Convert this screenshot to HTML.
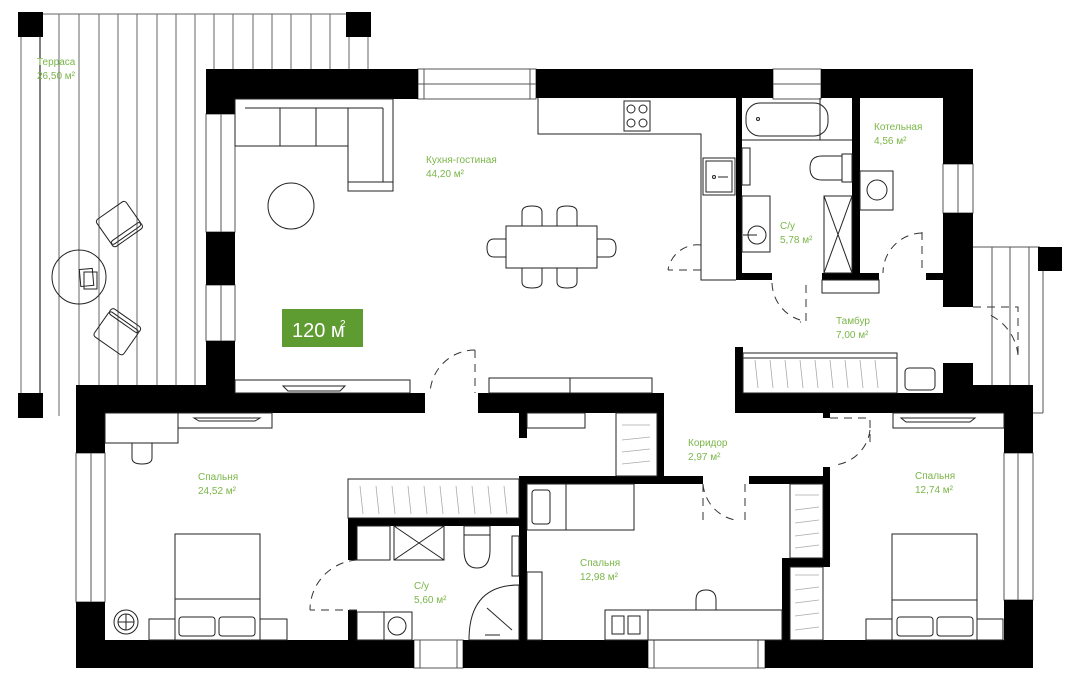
<!DOCTYPE html>
<html><head><meta charset="utf-8"><style>
html,body{margin:0;padding:0;background:#fff;width:1080px;height:695px;overflow:hidden}
svg{display:block}
text{font-family:"Liberation Sans","Noto Sans CJK SC",sans-serif;fill:#7ab648;font-size:10px}
</style></head><body>
<svg width="1080" height="695" viewBox="0 0 1080 695" xmlns="http://www.w3.org/2000/svg">
<!-- Terrace planks -->
<g stroke="#666" stroke-width="1">
<line x1="21" y1="14" x2="21" y2="416"/><line x1="40" y1="14" x2="40" y2="416" stroke="#000"/>
<line x1="59" y1="14" x2="59" y2="416"/><line x1="79" y1="14" x2="79" y2="385"/>
<line x1="99" y1="14" x2="99" y2="385"/><line x1="118" y1="14" x2="118" y2="385"/>
<line x1="137" y1="14" x2="137" y2="385"/><line x1="157" y1="14" x2="157" y2="385"/>
<line x1="176" y1="14" x2="176" y2="385"/><line x1="195" y1="14" x2="195" y2="385"/>
<line x1="214" y1="14" x2="214" y2="69"/><line x1="233" y1="14" x2="233" y2="69"/>
<line x1="253" y1="14" x2="253" y2="69"/><line x1="272" y1="14" x2="272" y2="69"/>
<line x1="291" y1="14" x2="291" y2="69"/><line x1="311" y1="14" x2="311" y2="69"/>
<line x1="330" y1="14" x2="330" y2="69"/><line x1="349" y1="14" x2="349" y2="69"/>
<line x1="368" y1="14" x2="368" y2="69"/>
<line x1="18" y1="14" x2="368" y2="14"/>
</g>
<rect x="18" y="12" width="25" height="25"/><rect x="346" y="12" width="25" height="25"/>
<rect x="18" y="393" width="25" height="25"/>
<!-- right terrace -->
<g stroke="#555" stroke-width="1">
<line x1="973" y1="247" x2="1040" y2="247"/>
<line x1="992" y1="247" x2="992" y2="385"/><line x1="1010" y1="247" x2="1010" y2="385"/>
<line x1="1029" y1="247" x2="1029" y2="385"/><line x1="1043" y1="270" x2="1043" y2="413"/>
<line x1="1033" y1="413" x2="1043" y2="413"/>
</g>
<rect x="1038" y="247" width="24" height="24"/>
<!-- terrace furniture -->
<g fill="none" stroke="#222" stroke-width="1">
<circle cx="79" cy="277" r="27"/>
<rect x="80" y="269" width="13" height="17" transform="rotate(-5 86 277)"/>
<rect x="84" y="272" width="13" height="17"/>
<g transform="rotate(-35 118 222)"><rect x="100" y="208" width="36" height="30" rx="3"/><rect x="100" y="234" width="36" height="7" rx="3"/></g>
<g transform="rotate(35 115 335)"><rect x="97" y="318" width="36" height="30" rx="3"/><rect x="97" y="314" width="36" height="7" rx="3"/></g>
</g>
<!-- windows (gray lines) -->
<g stroke="#555" stroke-width="1" fill="none">
<rect x="418" y="69" width="118" height="30"/><line x1="418" y1="84" x2="536" y2="84"/><line x1="424" y1="69" x2="424" y2="99"/><line x1="530" y1="69" x2="530" y2="99"/>
<rect x="773" y="69" width="48" height="30"/><line x1="773" y1="84" x2="821" y2="84"/>
<rect x="943" y="164" width="30" height="49"/><line x1="958" y1="164" x2="958" y2="213"/>
<rect x="206" y="114" width="29" height="118"/><line x1="221" y1="114" x2="221" y2="232"/>
<rect x="206" y="285" width="29" height="56"/><line x1="221" y1="285" x2="221" y2="341"/>
<rect x="76" y="453" width="29" height="149"/><line x1="91" y1="453" x2="91" y2="602"/>
<rect x="1004" y="453" width="29" height="147"/><line x1="1018" y1="453" x2="1018" y2="600"/>
<rect x="414" y="640" width="49" height="28"/><line x1="420" y1="640" x2="420" y2="668"/><line x1="457" y1="640" x2="457" y2="668"/>
<rect x="648" y="640" width="117" height="28"/><line x1="654" y1="640" x2="654" y2="668"/><line x1="758" y1="640" x2="758" y2="668"/>
</g>
<!-- walls -->
<g fill="#000">
<rect x="206" y="69" width="212" height="30"/>
<rect x="206" y="99" width="29" height="15"/>
<rect x="206" y="232" width="29" height="53"/>
<rect x="206" y="341" width="29" height="72"/>
<rect x="536" y="69" width="237" height="29"/>
<rect x="821" y="69" width="152" height="29"/>
<rect x="943" y="98" width="30" height="66"/>
<rect x="943" y="213" width="30" height="94"/>
<rect x="943" y="363" width="30" height="50"/>
<rect x="973" y="385" width="60" height="28"/>
<rect x="76" y="385" width="159" height="28"/>
<rect x="235" y="393" width="190" height="20"/>
<rect x="478" y="393" width="186" height="20"/>
<rect x="735" y="347" width="8" height="66"/>
<rect x="735" y="393" width="208" height="20"/>
<rect x="76" y="413" width="29" height="40"/>
<rect x="76" y="602" width="29" height="66"/>
<rect x="1004" y="413" width="29" height="40"/>
<rect x="1004" y="600" width="29" height="68"/>
<rect x="76" y="640" width="338" height="28"/>
<rect x="463" y="640" width="185" height="28"/>
<rect x="765" y="640" width="268" height="28"/>
<rect x="736" y="98" width="6" height="182"/><rect x="736" y="273" width="36" height="7"/>
<rect x="852" y="98" width="8" height="182"/><rect x="822" y="273" width="57" height="7"/>
<rect x="926" y="273" width="18" height="7"/>
<rect x="519" y="413" width="8" height="25"/>
<rect x="657" y="413" width="7" height="63"/>
<rect x="519" y="476" width="184" height="8"/>
<rect x="519" y="476" width="8" height="164"/>
<rect x="749" y="476" width="81" height="8"/>
<rect x="823" y="467" width="7" height="100"/>
<rect x="823" y="413" width="7" height="5"/>
<rect x="782" y="558" width="48" height="9"/>
<rect x="782" y="558" width="8" height="82"/>
<rect x="348" y="518" width="171" height="8"/>
<rect x="348" y="518" width="9" height="42"/>
<rect x="348" y="610" width="9" height="30"/>
</g>
<!-- furniture -->
<g fill="none" stroke="#222" stroke-width="1">
<path d="M235 99 H393 V191 H348 V146 H235 Z"/>
<line x1="245" y1="108" x2="383" y2="108"/><line x1="383" y1="108" x2="383" y2="182"/>
<line x1="280" y1="108" x2="280" y2="146"/><line x1="316" y1="108" x2="316" y2="146"/><line x1="348" y1="108" x2="348" y2="146"/>
<line x1="348" y1="182" x2="393" y2="182"/>
<circle cx="291" cy="206" r="23"/>
<rect x="506" y="226" width="91" height="42"/>
<path d="M522 226 V212 Q522 206 532 206 Q542 206 542 212 V226"/>
<path d="M557 226 V212 Q557 206 567 206 Q577 206 577 212 V226"/>
<path d="M522 268 V282 Q522 288 532 288 Q542 288 542 282 V268"/>
<path d="M557 268 V282 Q557 288 567 288 Q577 288 577 282 V268"/>
<path d="M506 239 H494 Q487 239 487 248 Q487 257 494 257 H506"/>
<path d="M597 239 H609 Q616 239 616 248 Q616 257 609 257 H597"/>
<path d="M538 98 V134 H701 V280 H736"/>
<rect x="624" y="101" width="26" height="30"/>
<circle cx="631" cy="109" r="4"/><circle cx="643" cy="109" r="4"/><circle cx="631" cy="123" r="4"/><circle cx="643" cy="123" r="4"/>
<rect x="703" y="158" width="32" height="37"/><rect x="706" y="161" width="26" height="31"/>
<circle cx="714" cy="177" r="1.5"/><line x1="718" y1="177" x2="728" y2="177"/>
<rect x="235" y="380" width="175" height="13"/>
<path d="M283 386 H345 L340 391 H288 Z"/>
<rect x="489" y="378" width="81" height="15"/><rect x="570" y="378" width="82" height="15"/>
<line x1="742" y1="140" x2="852" y2="140"/>
<rect x="746" y="103" width="82" height="33" rx="14"/><circle cx="758" cy="119" r="1.5"/>
<line x1="820" y1="98" x2="820" y2="140"/>
<rect x="742" y="148" width="8" height="37"/>
<path d="M842 156 H822 Q810 156 810 168 Q810 180 822 180 H842"/><rect x="842" y="154" width="10" height="28"/>
<rect x="742" y="196" width="28" height="56"/><circle cx="757" cy="235" r="9"/><line x1="743" y1="235" x2="757" y2="235"/>
<rect x="824" y="196" width="28" height="77"/><path d="M824 196 L852 273 M852 196 L824 273"/>
<rect x="860" y="171" width="33" height="39"/><circle cx="877" cy="190" r="10"/>
<rect x="822" y="280" width="57" height="13"/>
<rect x="743" y="353" width="154" height="40"/>
<rect x="743" y="358" width="154" height="35"/>
<rect x="905" y="368" width="30" height="22" rx="4"/>
<rect x="105" y="413" width="73" height="30"/>
<rect x="178" y="413" width="94" height="15"/>
<path d="M194 418 H260 L255 421 H199 Z"/>
<path d="M132 443 V458 Q132 464 142 464 Q152 464 152 458 V443"/>
<rect x="175" y="534" width="85" height="106"/><line x1="175" y1="599" x2="260" y2="599"/>
<rect x="179" y="617" width="36" height="19" rx="3"/><rect x="219" y="617" width="36" height="19" rx="3"/>
<rect x="149" y="619" width="26" height="21"/><rect x="260" y="619" width="27" height="21"/>
<circle cx="126" cy="622" r="12"/><circle cx="126" cy="622" r="8"/><line x1="118" y1="622" x2="134" y2="622"/><line x1="126" y1="614" x2="126" y2="630"/>
<rect x="348" y="479" width="171" height="39"/>
<rect x="357" y="526" width="33" height="34"/>
<rect x="394" y="526" width="50" height="34"/><path d="M394 526 L444 560 M444 526 L394 560"/>
<path d="M464 533 V550 Q464 568 477 568 Q490 568 490 550 V533"/><rect x="464" y="526" width="26" height="9"/>
<rect x="512" y="536" width="7" height="40"/>
<path d="M519 585 Q469 585 469 640 H519 Z"/><line x1="485" y1="635" x2="500" y2="635"/><line x1="487" y1="608" x2="512" y2="630"/>
<rect x="357" y="612" width="27" height="28"/><rect x="384" y="612" width="28" height="28"/><circle cx="397" cy="626" r="9"/>
<rect x="527" y="484" width="107" height="46"/><line x1="566" y1="484" x2="566" y2="530"/><rect x="532" y="490" width="18" height="34" rx="3"/>
<rect x="527" y="572" width="15" height="68"/>
<rect x="605" y="610" width="177" height="30"/><line x1="648" y1="610" x2="648" y2="640"/>
<path d="M696 610 V600 Q696 590 706 590 Q716 590 716 600 V610"/>
<rect x="612" y="616" width="12" height="18"/><rect x="628" y="616" width="12" height="18"/>
<rect x="616" y="413" width="41" height="63"/>
<rect x="790" y="484" width="33" height="74"/>
<rect x="790" y="567" width="33" height="73"/>
<rect x="527" y="413" width="58" height="15"/>
<rect x="893" y="413" width="111" height="15"/>
<path d="M901 418 H975 L970 422 H906 Z"/>
<rect x="892" y="534" width="85" height="106"/><line x1="892" y1="600" x2="977" y2="600"/>
<rect x="897" y="617" width="36" height="19" rx="3"/><rect x="937" y="617" width="36" height="19" rx="3"/>
<rect x="866" y="619" width="26" height="21"/><rect x="977" y="619" width="26" height="21"/>
</g>
<g stroke="#aaa" stroke-width="0.8">
<path d="M755 360 l3 28 M770 360 l3 28 M785 360 l3 28 M800 360 l3 28 M815 360 l3 28 M830 360 l3 28 M845 360 l3 28 M860 360 l3 28 M875 360 l3 28"/>
<path d="M360 486 l3 28 M376 486 l3 28 M392 486 l3 28 M408 486 l3 28 M424 486 l3 28 M440 486 l3 28 M456 486 l3 28 M472 486 l3 28 M488 486 l3 28 M504 486 l3 28"/>
<path d="M622 425 h28 M622 440 l28 -3 M622 452 l28 -3 M622 464 l28 -3"/>
<path d="M795 495 h24 M795 510 l24 -3 M795 523 l24 -3 M795 536 l24 -3 M795 548 l24 -3"/>
<path d="M795 575 h24 M795 590 l24 -3 M795 603 l24 -3 M795 616 l24 -3 M795 630 l24 -3"/>
</g>
<g fill="none" stroke="#333" stroke-width="1" stroke-dasharray="8 6">
<path d="M475 350 V393"/><path d="M475 350 A45 45 0 0 0 430 393"/>
<path d="M701 270 H668 M701 245 A30 30 0 0 0 668 270"/>
<path d="M806 285 V322 H800 M772 283 A40 40 0 0 0 800 320"/>
<path d="M922 232 V273 M922 233 A40 40 0 0 0 883 273"/>
<path d="M973 307 H1018 V360 M1018 355 A50 50 0 0 0 990 315"/>
<path d="M830 418 H870 V445 M870 430 A40 40 0 0 1 835 465"/>
<path d="M703 484 V520 M703 484 A40 40 0 0 0 735 520 M745 484 V520"/>
<path d="M357 610 H310 M357 560 A50 50 0 0 0 310 610"/>
</g>
<rect x="282" y="309" width="81" height="38" fill="#5e9c32"/>
<text x="292" y="337" style="fill:#fff;font-size:20px">120 м</text>
<text x="340" y="327" style="fill:#fff;font-size:10px">2</text>
<text x="37" y="65">Терраса</text><text x="37" y="79">26,50 м²</text>
<text x="426" y="163">Кухня-гостиная</text><text x="426" y="177">44,20 м²</text>
<text x="874" y="130">Котельная</text><text x="874" y="144">4,56 м²</text>
<text x="780" y="229">С/у</text><text x="780" y="243">5,78 м²</text>
<text x="836" y="324">Тамбур</text><text x="836" y="338">7,00 м²</text>
<text x="688" y="446">Коридор</text><text x="688" y="460">2,97 м²</text>
<text x="198" y="480">Спальня</text><text x="198" y="494">24,52 м²</text>
<text x="915" y="479">Спальня</text><text x="915" y="493">12,74 м²</text>
<text x="580" y="566">Спальня</text><text x="580" y="580">12,98 м²</text>
<text x="414" y="589">С/у</text><text x="414" y="603">5,60 м²</text>
</svg>
</body></html>
